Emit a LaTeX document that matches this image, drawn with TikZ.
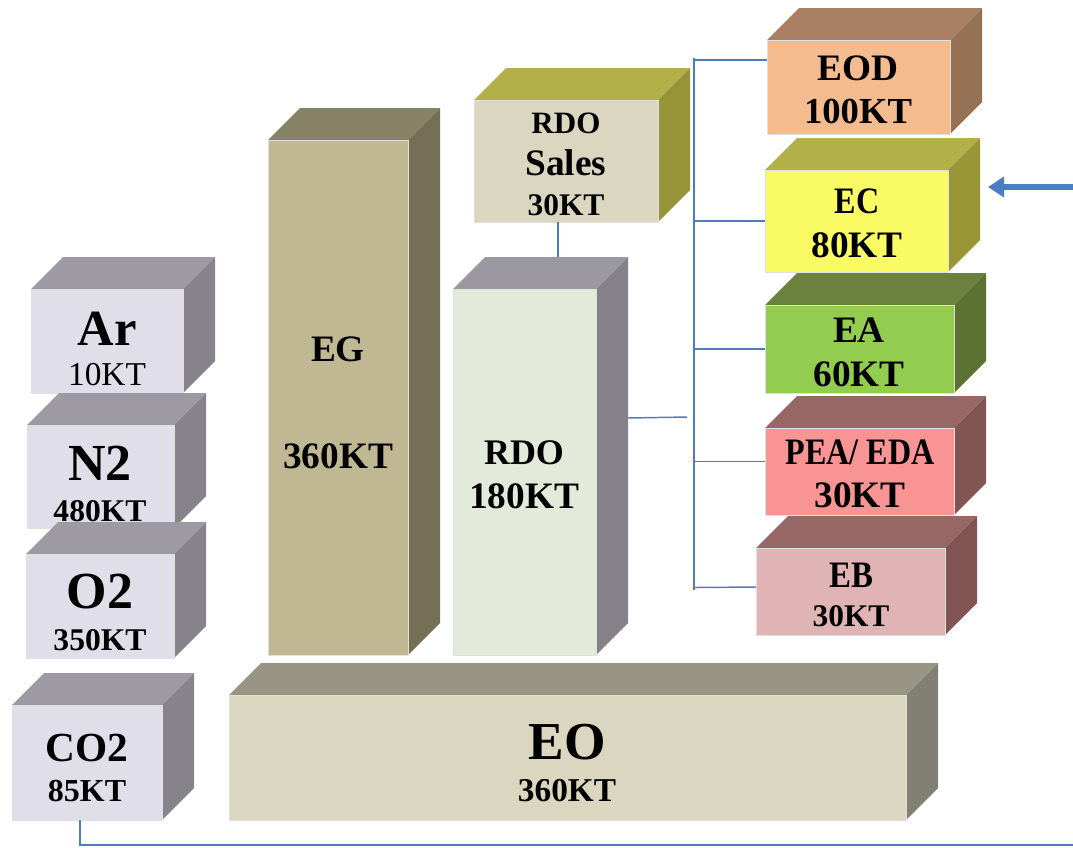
\documentclass[tikz,border=0pt]{standalone}
\usepackage{fontspec}
\setmainfont{Liberation Serif}
\usetikzlibrary{calc,arrows.meta}
\definecolor{gasF}{HTML}{E0DEE8}\definecolor{gasT}{HTML}{9D9AA4}\definecolor{gasS}{HTML}{86838B}
\definecolor{egF}{HTML}{BFB892}\definecolor{egT}{HTML}{878265}\definecolor{egS}{HTML}{746F55}
\definecolor{rdoF}{HTML}{E4EAD9}\definecolor{rdoT}{HTML}{9B98A1}\definecolor{rdoS}{HTML}{858189}
\definecolor{rsF}{HTML}{DAD6C0}\definecolor{rsT}{HTML}{B3B049}\definecolor{rsS}{HTML}{979437}
\definecolor{eoF}{HTML}{DAD6C0}\definecolor{eoT}{HTML}{989585}\definecolor{eoS}{HTML}{818073}
\definecolor{eodF}{HTML}{F4BB8E}\definecolor{eodT}{HTML}{AA8064}\definecolor{eodS}{HTML}{957155}
\definecolor{ecF}{HTML}{FAFA64}\definecolor{ecT}{HTML}{B2B049}\definecolor{ecS}{HTML}{999638}
\definecolor{eaF}{HTML}{92CD50}\definecolor{eaT}{HTML}{6C813E}\definecolor{eaS}{HTML}{5C7132}
\definecolor{peaF}{HTML}{F89494}\definecolor{peaT}{HTML}{966764}\definecolor{peaS}{HTML}{805552}
\definecolor{ebF}{HTML}{E0B4B4}\definecolor{ebT}{HTML}{966764}\definecolor{ebS}{HTML}{805552}
\definecolor{lineblue}{HTML}{4A7EC0}
% name, x0, y0, x1, y1, front, top, side
\newcommand\cuboid[8]{%
  \fill[#7] (#2,#3) -- (#2+32,#3-32) -- (#4+32,#3-32) -- (#4,#3) -- cycle;
  \fill[#8] (#4,#3) -- (#4+32,#3-32) -- (#4+32,#5-32) -- (#4,#5) -- cycle;
  \node[front, fill=#6, minimum width={(#4-#2)*0.75pt}, minimum height={(#5-#3)*0.75pt}] (#1) at (#2,#3) {};
}
\tikzset{
  front/.style={inner sep=0pt, outer sep=0pt, anchor=north west, draw=white!88!black, line width=0.4pt},
  txt/.style={inner sep=0pt, anchor=center, font=\fontsize{#1}{#1}\selectfont\bfseries},
  txtr/.style={inner sep=0pt, anchor=center, font=\fontsize{#1}{#1}\selectfont},
  conn/.style={draw=lineblue, line width=1.1pt},
  connb/.style={draw=lineblue, line width=2.2pt},
  arr/.style={draw=lineblue, line width=4.2pt, -{Triangle[length=12pt,width=15pt]}}
}
\begin{document}
\begin{tikzpicture}[x=0.75pt,y=-0.75pt]
\useasboundingbox (0,0) rectangle (1073,847);
% gases
\cuboid{ar}{31}{289}{183}{393}{gasF}{gasT}{gasS}
\node[txt=38] (arA) at (107,329) {Ar};
\node[txtr=25] (arB) at (107,375) {10KT};
\cuboid{n2}{27}{425}{174}{528}{gasF}{gasT}{gasS}
\node[txt=39] (n2A) at (100,463) {N2};
\node[txt=23.7] (n2B) at (100,511) {480KT};
\cuboid{o2}{26}{554}{174}{658}{gasF}{gasT}{gasS}
\node[txt=39] (o2A) at (100,592) {O2};
\node[txt=23.7] (o2B) at (100,640) {350KT};
\cuboid{co2}{12}{705}{162}{820}{gasF}{gasT}{gasS}
\node[txt=31] (co2A) at (87,748) {CO2};
\node[txt=24] (co2B) at (87,791) {85KT};
% EG
\cuboid{eg}{268}{140}{408}{655}{egF}{egT}{egS}
\node[txt=28] (egA) at (338,349) {EG};
\node[txt=28] (egB) at (338,456) {360KT};
% RDO sales
\cuboid{rds}{474}{100}{658}{222}{rsF}{rsT}{rsS}
\node[txt=23.3] (rdsA) at (566,123) {RDO};
\node[txt=28] (rdsB) at (566,163) {Sales};
\node[txt=23.6] (rdsC) at (566,205) {30KT};
% RDO
\cuboid{rdo}{453}{289}{596}{655}{rdoF}{rdoT}{rdoS}
\node[txt=27] (rdoA) at (524,453) {RDO};
\node[txt=28] (rdoB) at (524,496) {180KT};
% EO
\cuboid{eo}{229}{695}{906}{820}{eoF}{eoT}{eoS}
\node[txt=40] (eoA) at (567,742) {EO};
\node[txt=25] (eoB) at (567,791) {360KT};
% right column
\cuboid{eod}{767}{40}{950}{134}{eodF}{eodT}{eodS}
\node[txt=28] (eodA) at (858,68) {EOD};
\node[txt=27.5] (eodB) at (858,111) {100KT};
\cuboid{ec}{765}{170}{948}{272}{ecF}{ecT}{ecS}
\node[txt=28] (ecA) at (857,201) {\scalebox{0.86}[1]{EC}};
\node[txt=28] (ecB) at (857,245) {80KT};
\cuboid{ea}{765}{305}{954}{393}{eaF}{eaT}{eaS}
\node[txt=28] (eaA) at (859,330) {EA};
\node[txt=28] (eaB) at (859,374) {60KT};
\cuboid{pea}{765}{428}{954}{515}{peaF}{peaT}{peaS}
\node[txt=28] (peaA) at (860,452) {\scalebox{0.86}[1]{PEA/ EDA}};
\node[txt=28] (peaB) at (860,495) {30KT};
\cuboid{eb}{756}{548}{945}{635}{ebF}{ebT}{ebS}
\node[txt=28] (ebA) at (851,575) {\scalebox{0.88}[1]{EB}};
\node[txt=23.6] (ebB) at (851,616) {30KT};
% connectors
\coordinate (treeTop) at (694,58);
\coordinate (treeBot) at (694,590);
\draw[conn] (treeTop) -- (treeBot);
\draw[conn] ($(treeTop |- eod.west)+(0,-27)$) -- ($(eod.west)+(0,-27)$);
\draw[conn] (treeTop |- ec.west) -- (ec.west);
\draw[conn] (treeTop |- ea.west) -- (ea.west);
\draw[conn] ($(treeTop |- pea.west)+(0,-10)$) -- ($(pea.west)+(0,-10)$);
\draw[conn] ($(treeTop |- eb.west)+(0,-4)$) -- ($(eb.west)+(0,-4.5)$);
\coordinate (rdoT) at (687,417);
\draw[conn] ($(rdo.east)+(32,-54)$) -- (rdoT);
\draw[conn] ($(rds.south)+(-8,0)$) -- ($(rdo.north)+(33.5,-32)$);
\coordinate (arrS) at (1073,187);
\coordinate (arrE) at (988,187);
\draw[arr] (arrS) -- (arrE);
\coordinate (co2end) at (1073,845);
\draw[connb] ($(co2.south)+(-7,0)$) |- (co2end);
\end{tikzpicture}
\end{document}
